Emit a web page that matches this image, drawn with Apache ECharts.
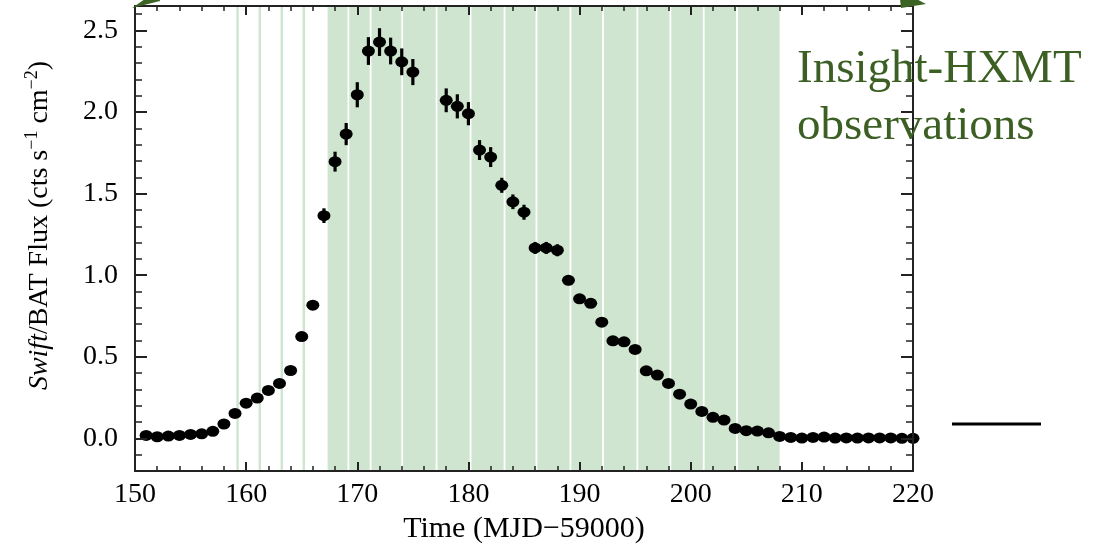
<!DOCTYPE html>
<html>
<head>
<meta charset="utf-8">
<script src="https://cdn.jsdelivr.net/npm/echarts@6/dist/echarts.min.js"></script>
<style>html,body{margin:0;padding:0;background:#fff}#c{width:1107px;height:544px}</style>
</head>
<body>
<div id="c"></div>
<script>
// ---- data ----
const days = [151,152,153,154,155,156,157,158,159,160,161,162,163,164,165,166,167,168,169,170,171,172,173,174,175,
  178,179,180,181,182,183,184,185,186,187,188,189,190,191,192,193,194,195,196,197,198,199,200,
  201,202,203,204,205,206,207,208,209,210,211,212,213,214,215,216,217,218,219,220];
const flux = [0.018,0.010,0.014,0.018,0.024,0.028,0.043,0.088,0.153,0.216,0.247,0.294,0.337,0.416,0.624,0.816,1.365,1.696,1.865,2.106,2.374,2.429,2.374,2.308,2.245,
  2.072,2.035,1.990,1.767,1.724,1.551,1.450,1.386,1.167,1.167,1.153,0.969,0.855,0.828,0.712,0.598,0.592,0.545,0.414,0.388,0.337,0.271,0.210,
  0.165,0.129,0.112,0.061,0.047,0.045,0.034,0.012,0.006,0.002,0.006,0.008,0.002,0.003,0.002,0.003,0.003,0.003,0.000,0.000];
const fluxErr = [0.01,0.01,0.01,0.01,0.01,0.01,0.01,0.01,0.01,0.01,0.01,0.01,0.01,0.012,0.015,0.018,0.045,0.061,0.068,0.077,0.085,0.085,0.082,0.082,0.080,
  0.073,0.074,0.071,0.061,0.061,0.046,0.045,0.046,0.037,0.037,0.037,0.030,0.025,0.025,0.025,0.022,0.022,0.020,0.018,0.018,0.018,0.018,0.018,
  0.015,0.015,0.015,0.015,0.015,0.015,0.015,0.015,0.01,0.01,0.01,0.01,0.01,0.01,0.01,0.01,0.01,0.01,0.01,0.01];
// Insight-HXMT observation intervals (MJD-59000)
const obsBands = [[159.12,159.34],[161.12,161.34],[163.1,163.32],[165.08,165.3],
  [167.33,169.12],[169.28,171.12],[171.28,173.96],[174.12,177.05],[177.21,180.11],[180.27,183.17],
  [183.33,186.04],[186.2,189.1],[189.26,192.03],[192.19,195.12],[195.28,198.09],[198.25,201.09],
  [201.25,204.08],[204.24,208.0]];
const xTicks = [150,160,170,180,190,200,210,220];
const yTicks = [0.0,0.5,1.0,1.5,2.0,2.5];

const SERIF = 'Liberation Serif';
const AX = '#222';
const chart = echarts.init(document.getElementById('c'));

function xAx(pos, showLabel){
  return {
    type:'value', min:150, max:220, interval:10, position:pos, z:5,
    axisLine:{show:true, onZero:false, lineStyle:{color:AX, width:2}},
    axisTick:{show:true, inside:true, length:9, lineStyle:{color:AX, width:2}},
    minorTick:{show:true, splitNumber:5, length:5, lineStyle:{color:AX, width:1.5}},
    splitLine:{show:false}, minorSplitLine:{show:false},
    axisLabel:{show:showLabel, fontFamily:SERIF, fontSize:28, color:'#000', margin:10},
    name: showLabel ? 'Time (MJD\u221259000)' : '',
    nameLocation:'middle', nameGap:40,
    nameTextStyle:{fontFamily:SERIF, fontSize:30, color:'#000'}
  };
}
function yMinor(pos){
  return {
    type:'value', min:-0.2, max:2.65, interval:0.1, position:pos, z:5,
    axisLine:{show:true, onZero:false, lineStyle:{color:AX, width:2}},
    axisTick:{show:true, inside:true, length:7, lineStyle:{color:AX, width:1.5}},
    axisLabel:{show:false}, splitLine:{show:false}
  };
}
function yMajor(pos, showLabel){
  return {
    type:'value', min:-0.2, max:2.65, position:pos, z:5,
    axisLine:{show:false},
    axisTick:{show:true, inside:true, length:12, customValues:yTicks, lineStyle:{color:AX, width:2}},
    axisLabel:{show:showLabel, customValues:yTicks, formatter:v=>v.toFixed(1), fontFamily:SERIF, fontSize:28, color:'#000', margin:17},
    splitLine:{show:false},
    name: showLabel ? '{it|Swift}{n|/BAT Flux (cts s}{sup|\u22121}{n| cm}{sup|\u22122}{n|)}' : '',
    nameLocation:'middle', nameRotate:90, nameGap:78,
    nameTextStyle:{
      color:'#000',
      padding:[0,0,0,26],
      rich:{
        it:{fontFamily:SERIF, fontStyle:'italic', fontSize:28, color:'#000', lineHeight:34},
        n:{fontFamily:SERIF, fontSize:28, color:'#000', lineHeight:34},
        sup:{fontFamily:SERIF, fontSize:18, color:'#000', verticalAlign:'top', lineHeight:20}
      }
    }
  };
}

const option = {
  animation:false,
  backgroundColor:'#fff',
  grid:{left:135, right:194, top:6, bottom:73, containLabel:false, outerBoundsMode:'none'},
  xAxis:[xAx('bottom', true), xAx('top', false)],
  yAxis:[yMinor('left'), yMajor('left', true), yMinor('right'), yMajor('right', false)],
  series:[
    {
      type:'scatter', data:[], z:1, silent:true,
      markArea:{silent:true, itemStyle:{color:'#cfe5cf', opacity:1},
        data: obsBands.map(b=>[{xAxis:b[0]},{xAxis:b[1]}])}
    },
    {
      type:'custom', z:3, silent:true,
      data: days.map((d,i)=>[d, flux[i], fluxErr[i]]),
      renderItem:function(params, api){
        const x=api.value(0), y=api.value(1), e=api.value(2);
        const p1=api.coord([x,y-e]), p2=api.coord([x,y+e]);
        return {type:'line', shape:{x1:p1[0],y1:p1[1],x2:p2[0],y2:p2[1]}, style:{stroke:'#000', lineWidth:3.2}};
      }
    },
    {
      type:'scatter', z:4, silent:true,
      data: days.map((d,i)=>[d, flux[i]]),
      symbol:'circle', symbolSize:[13,11],
      itemStyle:{color:'#000', opacity:1}
    }
  ],
  graphic:[
    {type:'line', z:10, shape:{x1:140,y1:-2,x2:920,y2:-2}, style:{stroke:'#3b6324', lineWidth:3}},
    {type:'polygon', z:10, shape:{points:[[132,8],[158,-10],[160,1]]}, style:{fill:'#3b6324'}},
    {type:'polygon', z:10, shape:{points:[[926,4],[899,-10],[901,8]]}, style:{fill:'#3b6324'}},
    {type:'text', z:10, left:797, top:41,
      style:{text:'Insight-HXMT\nobservations', font:'47px "Liberation Serif"', fill:'#3c5f24', lineHeight:57}},
    {type:'line', z:10, shape:{x1:952,y1:424,x2:1041,y2:424}, style:{stroke:'#000', lineWidth:3}}
  ]
};
chart.setOption(option);
</script>
</body>
</html>
